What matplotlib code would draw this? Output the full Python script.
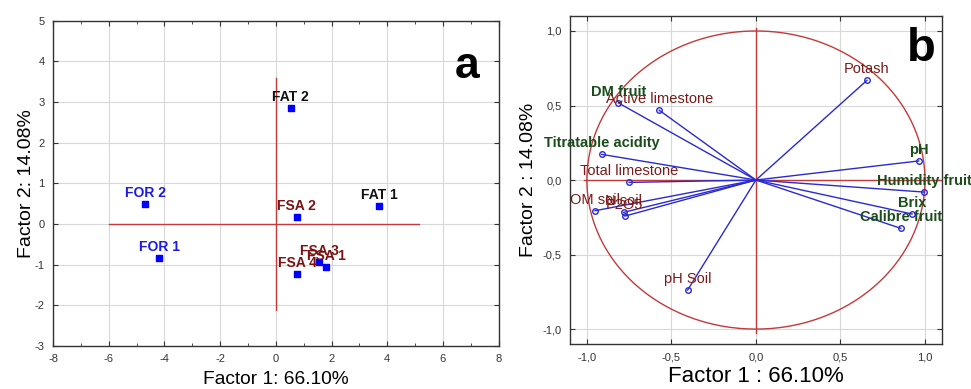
import matplotlib.pyplot as plt
import matplotlib.ticker as mticker
import numpy as np

plt.rcParams['font.family'] = ['Liberation Sans', 'DejaVu Sans']
plt.rcParams['axes.unicode_minus'] = False

# panel a : scores
obs_names = ["FAT 2", "FOR 2", "FOR 1", "FAT 1", "FSA 2", "FSA 3", "FSA 1", "FSA 4"]
obs_f1 = [0.53, -4.68, -4.19, 3.71, 0.75, 1.55, 1.81, 0.77]
obs_f2 = [2.86, 0.49, -0.83, 0.43, 0.18, -0.94, -1.07, -1.24]
obs_group = ["FAT", "FOR", "FOR", "FAT", "FSA", "FSA", "FSA", "FSA"]

# panel b : loadings
var_names = ["Potash", "DM fruit", "Active limestone", "Titratable acidity",
             "Total limestone", "OM soil", "N soil", "P2O5", "pH Soil",
             "pH", "Humidity fruit", "Brix", "Calibre fruit"]
var_f1 = [0.657, -0.813, -0.572, -0.912, -0.750, -0.952, -0.783, -0.775, -0.404,
          0.963, 0.997, 0.924, 0.857]
var_f2 = [0.669, 0.517, 0.468, 0.172, -0.016, -0.206, -0.217, -0.242, -0.738,
          0.128, -0.081, -0.228, -0.324]
var_fruit = [False, True, False, True, False, False, False, False, False,
             True, True, True, True]

group_col = {"FAT": "#111111", "FOR": "#1c1ce0", "FSA": "#7a1414"}
red = "#c23a3a"
blue = "#2a2ad0"
soil_col = "#7a1a1a"
fruit_col = "#1b4d1b"

fig = plt.figure(figsize=(9.71, 3.89), dpi=100)

def style(ax):
    ax.grid(True, color="#d8d8d8", lw=0.8, zorder=0)
    ax.set_axisbelow(True)
    ax.tick_params(which="both", direction="in", top=True, right=True,
                   labelsize=8, colors="#333333", pad=6)
    ax.tick_params(which="minor", length=2)
    for s in ax.spines.values():
        s.set_color("#333333")
        s.set_linewidth(1.0)

# ---------- a
ax = fig.add_axes([0.0546, 0.111, 0.459, 0.836])
ax.set_xlim(-8, 8)
ax.set_ylim(-3, 5)
ax.xaxis.set_major_locator(mticker.MultipleLocator(2))
ax.xaxis.set_minor_locator(mticker.MultipleLocator(1))
ax.yaxis.set_major_locator(mticker.MultipleLocator(1))
style(ax)
ax.plot([-6, 5.13], [0, 0], color=red, lw=1, zorder=1)
ax.plot([0, 0], [-2.11, 3.6], color=red, lw=1, zorder=1)
ax.scatter(obs_f1, obs_f2, marker="s", s=22, color="#0000ff", zorder=3)
for n, x, y, g in zip(obs_names, obs_f1, obs_f2, obs_group):
    ax.annotate(n, (x, y), xytext=(0, 5), textcoords="offset points",
                ha="center", va="baseline", fontsize=10, fontweight="bold",
                color=group_col[g], zorder=4)
ax.text(0.93, 0.86, "a", transform=ax.transAxes, fontsize=32,
        fontweight="bold", ha="center", va="center")
ax.set_xlabel("Factor 1: 66.10%", fontsize=13.8, labelpad=5)
ax.set_ylabel("Factor 2: 14.08%", fontsize=14, labelpad=0)

# ---------- b
bx = fig.add_axes([0.587, 0.1157, 0.383, 0.843])
bx.set_xlim(-1.1, 1.1)
bx.set_ylim(-1.1, 1.1)
bx.xaxis.set_major_locator(mticker.MultipleLocator(0.5))
bx.yaxis.set_major_locator(mticker.MultipleLocator(0.5))
fmt = mticker.FuncFormatter(lambda v, p: f"{v:.1f}".replace(".", ",").replace("-0,0", "0,0"))
bx.xaxis.set_major_formatter(fmt)
bx.yaxis.set_major_formatter(fmt)
style(bx)
t = np.linspace(0, 2 * np.pi, 400)
bx.plot(np.cos(t), np.sin(t), color=red, lw=1, zorder=1)
bx.plot([-1.02, 1.1], [0, 0], color=red, lw=1, zorder=1)
bx.plot([0, 0], [-1.027, 1.02], color=red, lw=1, zorder=1)
for n, x, y, fr in zip(var_names, var_f1, var_f2, var_fruit):
    bx.plot([0, x], [0, y], color=blue, lw=1, zorder=2)
    bx.plot(x, y, marker="o", ms=4, mfc="none", mec=blue, mew=1, zorder=3)
    bx.annotate(n, (x, y), xytext=(0, 5), textcoords="offset points",
                ha="center", va="baseline", fontsize=10.5,
                fontweight="bold" if fr else "normal",
                color=fruit_col if fr else soil_col, zorder=4)
bx.text(0.945, 0.9, "b", transform=bx.transAxes, fontsize=34,
        fontweight="bold", ha="center", va="center")
bx.set_xlabel("Factor 1 : 66.10%", fontsize=16, labelpad=3)
bx.set_ylabel("Factor 2 : 14.08%", fontsize=14, labelpad=4)

fig.savefig("out.png", dpi=100)
